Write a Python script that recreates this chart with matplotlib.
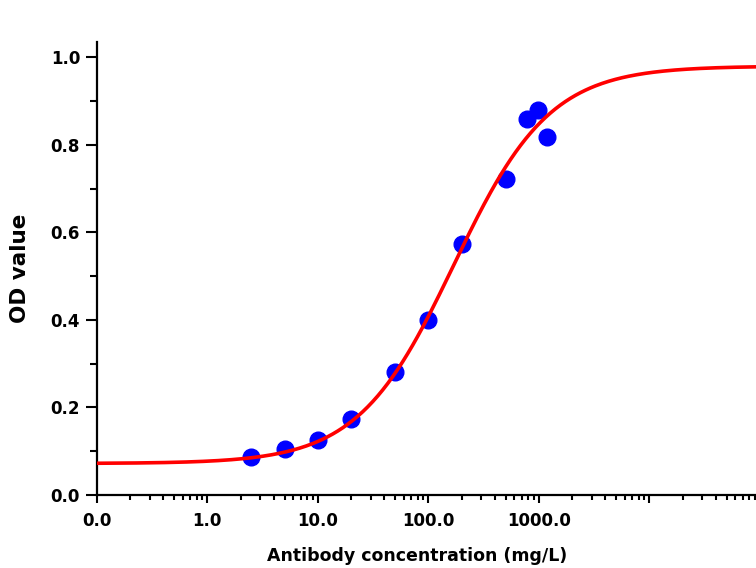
import numpy as np
import matplotlib.pyplot as plt
from matplotlib.ticker import FixedLocator, LogLocator, NullFormatter, MultipleLocator

plt.rcParams['font.family'] = ['DejaVu Sans']

# measured points
conc = [2.5, 5, 10, 20, 50, 100, 200, 500, 780, 980, 1180]
od = [0.087, 0.105, 0.125, 0.174, 0.281, 0.40, 0.573, 0.721, 0.86, 0.88, 0.818]

# 4PL fit parameters (bottom, top, EC50, hill slope)
fit_bottom = 0.072
fit_top = 0.98
fit_ec50 = 170.0
fit_hill = 1.0

xticks = [0.1, 1, 10, 100, 1000, 10000]
xticklabels = ['0.0', '1.0', '10.0', '100.0', '1000.0', '']
yticks = [0.0, 0.2, 0.4, 0.6, 0.8, 1.0]

fig = plt.figure(figsize=(7.56, 5.68), dpi=100)
ax = fig.add_axes([0.128, 0.1285, 0.872, 0.7975])

xs = np.logspace(-1, 5, 400)
ys = fit_bottom + (fit_top - fit_bottom) / (1 + (fit_ec50 / xs) ** fit_hill)
ax.plot(xs, ys, color='#ff0000', lw=2.6, zorder=3)
ax.plot(conc, od, 'o', color='#0000ff', ms=12, zorder=2, clip_on=False)

ax.set_xscale('log')
ax.set_xlim(0.1, 92000)
ax.set_ylim(0, 1.035)

ax.xaxis.set_major_locator(FixedLocator(xticks))
ax.set_xticks(xticks)
ax.set_xticklabels(xticklabels)
ax.xaxis.set_minor_locator(LogLocator(base=10, subs=np.arange(2, 10)))
ax.xaxis.set_minor_formatter(NullFormatter())

ax.set_yticks(yticks)
ax.set_yticklabels(['%.1f' % v for v in yticks])
ax.yaxis.set_minor_locator(MultipleLocator(0.1))

for lab in ax.get_xticklabels() + ax.get_yticklabels():
    lab.set_fontweight('bold')
ax.tick_params(axis='both', which='both', labelsize=12, width=1.5, direction='out', colors='black')
ax.tick_params(axis='y', which='major', length=8, pad=4)
ax.tick_params(axis='y', which='minor', length=5)
ax.tick_params(axis='x', which='major', length=6, pad=6)
ax.tick_params(axis='x', which='minor', length=3.5)

ax.spines['top'].set_visible(False)
ax.spines['right'].set_visible(False)
ax.spines['left'].set_linewidth(1.6)
ax.spines['bottom'].set_linewidth(1.6)

ax.set_xlabel('Antibody concentration (mg/L)', fontsize=12.5, fontweight='bold')
ax.xaxis.set_label_coords(0.486, -0.115)
ax.set_ylabel('OD value', fontsize=15.5, fontweight='bold')
ax.yaxis.set_label_coords(-0.102, 0.5)

plt.savefig('out.png', dpi=100)
